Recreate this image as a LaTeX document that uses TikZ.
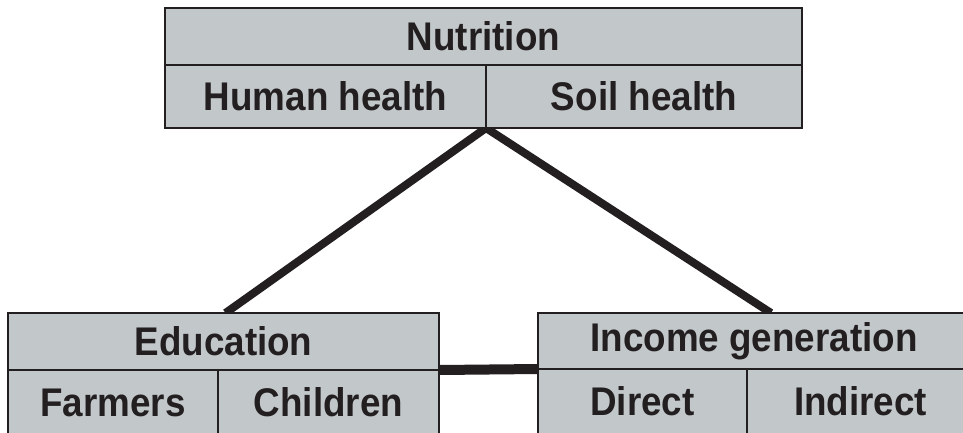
\documentclass[tikz,border=0pt]{standalone}
\usepackage{fontspec}
\setmainfont{Liberation Sans}[FakeStretch=0.92]
\usepackage{tikz}
\usetikzlibrary{positioning}
\usetikzlibrary{backgrounds}

\definecolor{boxgrey}{RGB}{194,199,202}
\definecolor{inkblack}{RGB}{35,31,32}

\tikzset{
  headbox/.style={rectangle, draw=inkblack, fill=boxgrey, line width=2.5pt,
    inner sep=0pt, outer sep=0pt, minimum height=57pt, text=inkblack,
    font=\fontsize{40}{44}\selectfont\bfseries},
  cellbox/.style={headbox, minimum height=63pt},
  link/.style={draw=inkblack, line width=8pt},
}

\begin{document}
\begin{tikzpicture}[x=1pt,y=-1pt]
      \useasboundingbox (0,0) rectangle (963,432) ;
      \clip (0,0) rectangle (963,432) ;
      \node[headbox, minimum width=637pt] (nutrition) at (483.5,36.5) {Nutrition} ;
      \node[cellbox, minimum width=321pt, below right=0pt and 0pt of nutrition.south west] (human) {Human health} ;
      \node[cellbox, minimum width=316pt, right=0pt of human] (soil) {Soil health} ;
      \node[headbox, minimum width=431pt] (education) at (223.5,341.5) {Education} ;
      \node[cellbox, minimum width=210pt, minimum height=65pt, below right=0pt and 0pt of education.south west] (farmers) {Farmers} ;
      \node[cellbox, minimum width=221pt, minimum height=65pt, right=0pt of farmers] (children) {Children} ;
      \node[headbox, minimum width=432pt, minimum height=56pt] (income) at (754,341) {Income generation} ;
      \node[cellbox, minimum width=209pt, minimum height=65pt, below right=0pt and 0pt of income.south west] (direct) {Direct} ;
      \node[cellbox, minimum width=227pt, minimum height=65pt, right=0pt of direct] (indirect) {Indirect} ;
      \coordinate (incometop) at ([xshift=17pt]income.north) ;
      \begin{pgfonlayer}{background}
        \draw [link] (human.south east) -- ([xshift=2pt]education.north) ;
        \draw [link] (human.south east) -- (incometop) ;
        \draw [link, line width=10pt] (education.south east) -- (income.south west) ;
      \end{pgfonlayer}
\end{tikzpicture}
\end{document}
